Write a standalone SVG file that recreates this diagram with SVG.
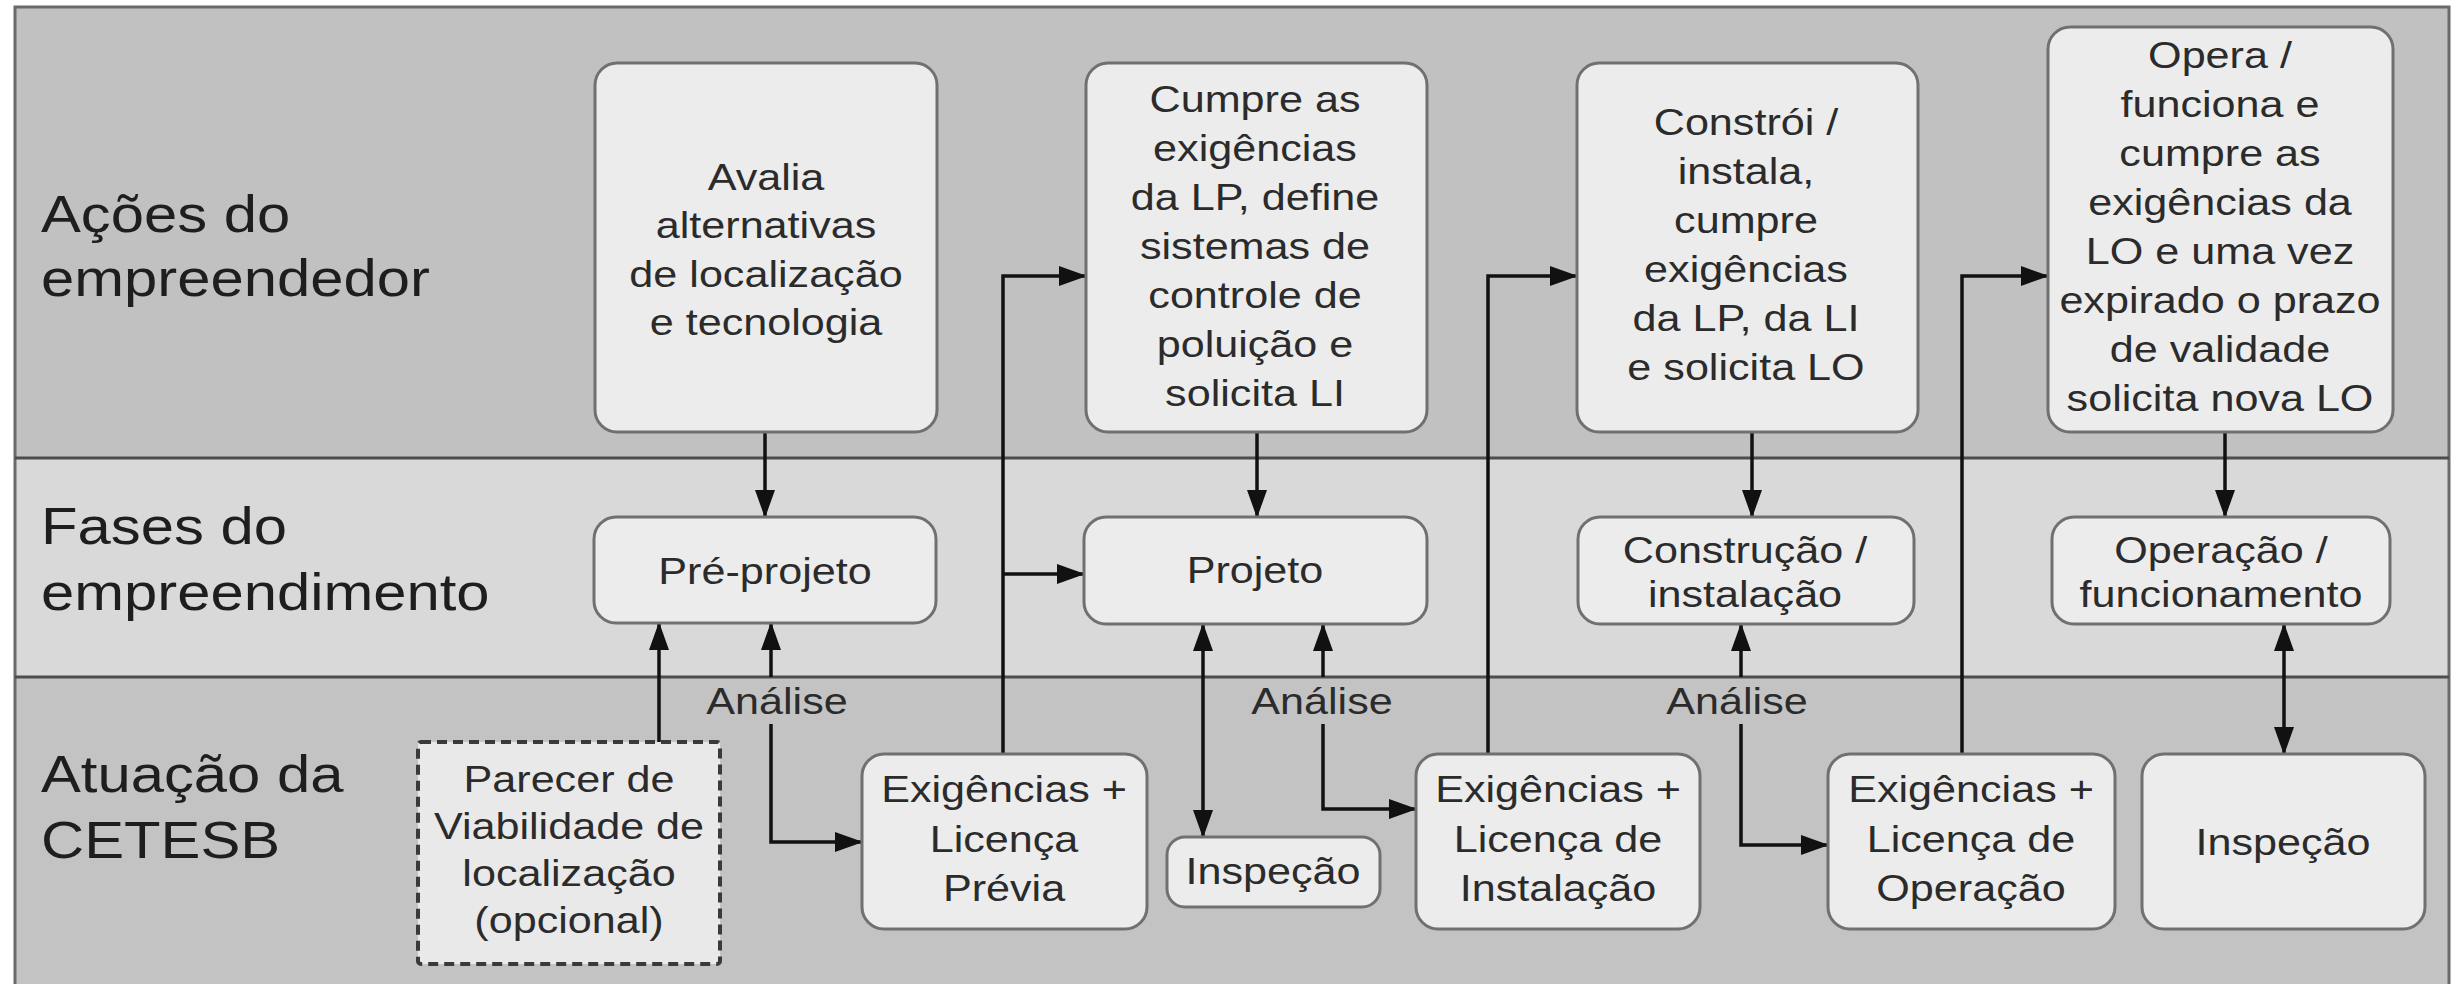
<svg xmlns="http://www.w3.org/2000/svg" width="2453" height="984" viewBox="0 0 2453 984">
<style>
.lane{stroke:none}
.div{stroke:#4d4d4d;stroke-width:3;fill:none}
.box{fill:#ececec;stroke:#707070;stroke-width:3}
.dash{fill:#e9e9e9;stroke:#3a3a3a;stroke-width:4;stroke-dasharray:10 6}
.t{font-family:"Liberation Sans",Arial,sans-serif;font-size:37.5px;fill:#2b2b2b;text-anchor:middle}
.lt{font-family:"Liberation Sans",Arial,sans-serif;font-size:52px;fill:#1e1e1e;text-anchor:start}
.c{fill:none;stroke:#111;stroke-width:3.5}
</style>
<defs>
<marker id="ah" markerUnits="userSpaceOnUse" markerWidth="28" markerHeight="20" refX="27" refY="10" orient="auto-start-reverse">
<path d="M0,0 L28,10 L0,20 z" fill="#111"/>
</marker>
</defs>
<rect x="0" y="0" width="2453" height="984" fill="#ffffff"/>
<g id="lanes">
<rect class="lane" x="15" y="7" width="2434" height="451" fill="#c1c1c1"/>
<rect class="lane" x="15" y="458" width="2434" height="219" fill="#d9d9d9"/>
<rect class="lane" x="15" y="677" width="2434" height="307" fill="#c3c3c3"/>
<rect x="15" y="7" width="2434" height="990" fill="none" stroke="#6a6a6a" stroke-width="3"/>
<line class="div" x1="15" y1="458" x2="2449" y2="458"/>
<line class="div" x1="15" y1="677" x2="2449" y2="677"/>
<text class="lt" transform="matrix(1.15 0 0 1 41 0)"><tspan x="0" y="232">Ações do</tspan><tspan x="0" y="296">empreendedor</tspan></text>
<text class="lt" transform="matrix(1.15 0 0 1 41 0)"><tspan x="0" y="544">Fases do</tspan><tspan x="0" y="610">empreendimento</tspan></text>
<text class="lt" transform="matrix(1.15 0 0 1 41 0)"><tspan x="0" y="792">Atuação da</tspan><tspan x="0" y="858">CETESB</tspan></text>
</g>
<g id="connectors">
<path class="c" d="M765,432 V517" marker-end="url(#ah)"/>
<path class="c" d="M1257,432 V517" marker-end="url(#ah)"/>
<path class="c" d="M1752,432 V517" marker-end="url(#ah)"/>
<path class="c" d="M2225,432 V517" marker-end="url(#ah)"/>
<path class="c" d="M659,742 V623" marker-end="url(#ah)"/>
<path class="c" d="M771,677 V623" marker-end="url(#ah)"/>
<path class="c" d="M771,724 V842 H862" marker-end="url(#ah)"/>
<path class="c" d="M1003,754 V276 H1086" marker-end="url(#ah)"/>
<path class="c" d="M1003,574 H1084" marker-end="url(#ah)"/>
<path class="c" d="M1203,624 V837" marker-start="url(#ah)" marker-end="url(#ah)"/>
<path class="c" d="M1323,677 V624" marker-end="url(#ah)"/>
<path class="c" d="M1323,724 V809 H1416" marker-end="url(#ah)"/>
<path class="c" d="M1488,754 V276 H1577" marker-end="url(#ah)"/>
<path class="c" d="M1741,677 V624" marker-end="url(#ah)"/>
<path class="c" d="M1741,724 V845 H1828" marker-end="url(#ah)"/>
<path class="c" d="M1962,754 V276 H2048" marker-end="url(#ah)"/>
<path class="c" d="M2284,624 V754" marker-start="url(#ah)" marker-end="url(#ah)"/>
<text class="t" transform="matrix(1.15 0 0 1 777 0)" x="0" y="714">Análise</text>
<text class="t" transform="matrix(1.15 0 0 1 1322 0)" x="0" y="714">Análise</text>
<text class="t" transform="matrix(1.15 0 0 1 1737 0)" x="0" y="714">Análise</text>
</g>
<g id="avalia">
<rect class="box" x="595" y="63" width="342" height="369" rx="22"/>
<text class="t" transform="matrix(1.15 0 0 1 766 0)"><tspan x="0" y="190">Avalia</tspan><tspan x="0" y="238.5">alternativas</tspan><tspan x="0" y="287">de localização</tspan><tspan x="0" y="335.5">e tecnologia</tspan></text>
</g>
<g id="cumpre">
<rect class="box" x="1086" y="63" width="341" height="369" rx="22"/>
<text class="t" transform="matrix(1.15 0 0 1 1255 0)"><tspan x="0" y="112">Cumpre as</tspan><tspan x="0" y="161">exigências</tspan><tspan x="0" y="210">da LP, define</tspan><tspan x="0" y="259">sistemas de</tspan><tspan x="0" y="308">controle de</tspan><tspan x="0" y="357">poluição e</tspan><tspan x="0" y="406">solicita LI</tspan></text>
</g>
<g id="constroi">
<rect class="box" x="1577" y="63" width="341" height="369" rx="22"/>
<text class="t" transform="matrix(1.15 0 0 1 1746 0)"><tspan x="0" y="135">Constrói /</tspan><tspan x="0" y="184">instala,</tspan><tspan x="0" y="233">cumpre</tspan><tspan x="0" y="282">exigências</tspan><tspan x="0" y="331">da LP, da LI</tspan><tspan x="0" y="380">e solicita LO</tspan></text>
</g>
<g id="opera">
<rect class="box" x="2048" y="27" width="345" height="405" rx="22"/>
<text class="t" transform="matrix(1.15 0 0 1 2220 0)"><tspan x="0" y="68">Opera /</tspan><tspan x="0" y="117">funciona e</tspan><tspan x="0" y="166">cumpre as</tspan><tspan x="0" y="215">exigências da</tspan><tspan x="0" y="264">LO e uma vez</tspan><tspan x="0" y="313">expirado o prazo</tspan><tspan x="0" y="362">de validade</tspan><tspan x="0" y="411">solicita nova LO</tspan></text>
</g>
<g id="preprojeto">
<rect class="box" x="594" y="517" width="342" height="106" rx="22"/>
<text class="t" transform="matrix(1.15 0 0 1 765 0)" x="0" y="584">Pré-projeto</text>
</g>
<g id="projeto">
<rect class="box" x="1084" y="517" width="343" height="107" rx="22"/>
<text class="t" transform="matrix(1.15 0 0 1 1255 0)" x="0" y="583">Projeto</text>
</g>
<g id="construcao">
<rect class="box" x="1578" y="517" width="336" height="107" rx="22"/>
<text class="t" transform="matrix(1.15 0 0 1 1745 0)"><tspan x="0" y="563">Construção /</tspan><tspan x="0" y="607">instalação</tspan></text>
</g>
<g id="operacao">
<rect class="box" x="2052" y="517" width="338" height="107" rx="22"/>
<text class="t" transform="matrix(1.15 0 0 1 2221 0)"><tspan x="0" y="563">Operação /</tspan><tspan x="0" y="607">funcionamento</tspan></text>
</g>
<g id="parecer">
<rect class="dash" x="418" y="742" width="302" height="222" rx="3"/>
<text class="t" transform="matrix(1.15 0 0 1 569 0)"><tspan x="0" y="792">Parecer de</tspan><tspan x="0" y="839">Viabilidade de</tspan><tspan x="0" y="886">localização</tspan><tspan x="0" y="933">(opcional)</tspan></text>
</g>
<g id="exig-lp">
<rect class="box" x="862" y="754" width="285" height="175" rx="22"/>
<text class="t" transform="matrix(1.15 0 0 1 1004 0)"><tspan x="0" y="802">Exigências +</tspan><tspan x="0" y="852">Licença</tspan><tspan x="0" y="901">Prévia</tspan></text>
</g>
<g id="inspecao-1">
<rect class="box" x="1167" y="837" width="213" height="70" rx="18"/>
<text class="t" transform="matrix(1.15 0 0 1 1273 0)" x="0" y="884">Inspeção</text>
</g>
<g id="exig-li">
<rect class="box" x="1416" y="754" width="284" height="175" rx="22"/>
<text class="t" transform="matrix(1.15 0 0 1 1558 0)"><tspan x="0" y="802">Exigências +</tspan><tspan x="0" y="852">Licença de</tspan><tspan x="0" y="901">Instalação</tspan></text>
</g>
<g id="exig-lo">
<rect class="box" x="1828" y="754" width="287" height="175" rx="22"/>
<text class="t" transform="matrix(1.15 0 0 1 1971 0)"><tspan x="0" y="802">Exigências +</tspan><tspan x="0" y="852">Licença de</tspan><tspan x="0" y="901">Operação</tspan></text>
</g>
<g id="inspecao-2">
<rect class="box" x="2142" y="754" width="283" height="175" rx="22"/>
<text class="t" transform="matrix(1.15 0 0 1 2283 0)" x="0" y="855">Inspeção</text>
</g>
</svg>
